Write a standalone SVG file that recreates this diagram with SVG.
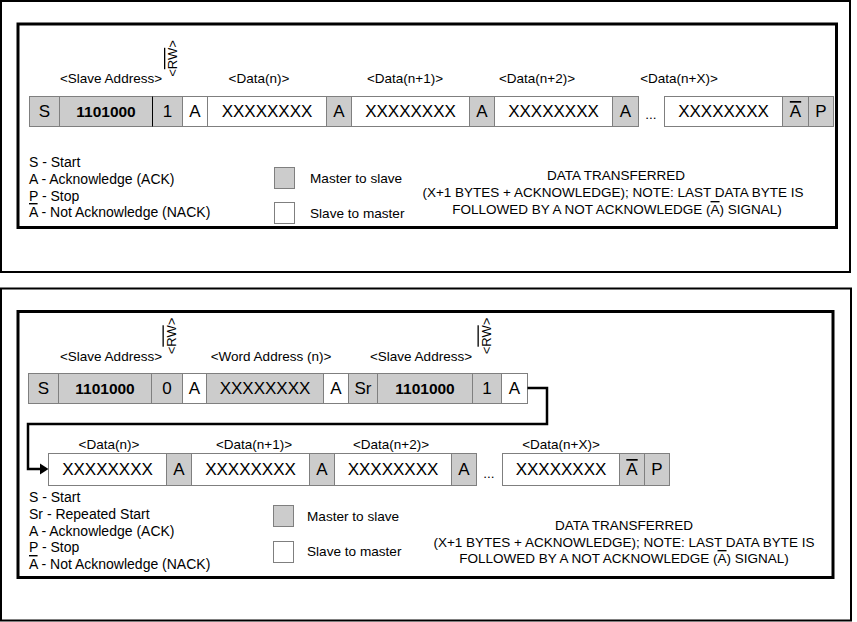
<svg xmlns="http://www.w3.org/2000/svg" width="857" height="622" viewBox="0 0 857 622">
<style>
text{font-family:"Liberation Sans",Arial,Helvetica,sans-serif;fill:#000}
.fo{fill:none;stroke:#000;stroke-width:2}
.fi{fill:none;stroke:#000;stroke-width:3}
.m{fill:#cccccc;stroke:#7f7f7f;stroke-width:1}
.s{fill:#ffffff;stroke:#7f7f7f;stroke-width:1}
.ct{font-size:17px;text-anchor:middle}
.cb{font-size:15.5px;font-weight:bold;text-anchor:middle}
.lbl{font-size:13.5px;text-anchor:middle}
.rw{font-size:13px;text-anchor:middle}
.leg{font-size:14px}
.ms{font-size:13.6px}
.note{font-size:13.5px;text-anchor:middle}
.dots{font-size:13.5px;text-anchor:middle}
.ov{text-decoration:overline}
.conn{fill:none;stroke:#000;stroke-width:2.5}
</style>
<rect width="857" height="622" fill="#fff"/>

<!-- ===== TOP PANEL ===== -->
<g id="top-panel">
<rect class="fo" x="1" y="1" width="849" height="271"/>
<rect class="fi" x="18" y="24" width="818.5" height="203.5"/>
</g>

<g id="top-labels">
<text class="lbl" x="111" y="83">&lt;Slave Address&gt;</text>
<text class="rw" transform="translate(177,58.5) rotate(-90)">&lt;<tspan class="ov">RW</tspan>&gt;</text>
<text class="lbl" x="259" y="83">&lt;Data(n)&gt;</text>
<text class="lbl" x="405" y="83">&lt;Data(n+1)&gt;</text>
<text class="lbl" x="537" y="83">&lt;Data(n+2)&gt;</text>
<text class="lbl" x="679" y="83">&lt;Data(n+X)&gt;</text>
</g>

<g id="t-S"><rect class="m" x="29.5" y="96.5" width="30" height="30"/><text class="ct" x="44.5" y="117">S</text></g>
<g id="t-addr"><rect class="m" x="59.5" y="96.5" width="93" height="30"/><text class="cb" x="106" y="116.5">1101000</text></g>
<g id="t-rw"><rect class="m" x="152.5" y="96.5" width="30" height="30"/><text class="ct" x="167.5" y="117">1</text></g>
<line x1="152.5" y1="96.5" x2="152.5" y2="126.5" stroke="#000" stroke-width="1"/>
<g id="t-ack0"><rect class="s" x="182.5" y="96.5" width="25" height="30"/><text class="ct" x="195" y="117">A</text></g>
<g id="t-d0"><rect class="s" x="207.5" y="96.5" width="119" height="30"/><text class="ct" x="267" y="117">XXXXXXXX</text></g>
<g id="t-ack1"><rect class="m" x="326.5" y="96.5" width="25" height="30"/><text class="ct" x="339" y="117">A</text></g>
<g id="t-d1"><rect class="s" x="351.5" y="96.5" width="118" height="30"/><text class="ct" x="410.5" y="117">XXXXXXXX</text></g>
<g id="t-ack2"><rect class="m" x="469.5" y="96.5" width="25" height="30"/><text class="ct" x="482" y="117">A</text></g>
<g id="t-d2"><rect class="s" x="494.5" y="96.5" width="118" height="30"/><text class="ct" x="553.5" y="117">XXXXXXXX</text></g>
<g id="t-ack3"><rect class="m" x="612.5" y="96.5" width="26" height="30"/><text class="ct" x="625.5" y="117">A</text></g>
<g id="t-dots"><text class="dots" x="651" y="119">...</text></g>
<g id="t-dx"><rect class="s" x="664.5" y="96.5" width="118" height="30"/><text class="ct" x="723.5" y="117">XXXXXXXX</text></g>
<g id="t-nack"><rect class="m" x="782.5" y="96.5" width="26" height="30"/><text class="ct" x="795.5" y="117"><tspan class="ov">A</tspan></text></g>
<g id="t-P"><rect class="m" x="808.5" y="96.5" width="25" height="30"/><text class="ct" x="821" y="117">P</text></g>

<g id="top-legend">
<text class="leg" x="29" y="167">S - Start</text>
<text class="leg" x="29" y="184">A - Acknowledge (ACK)</text>
<text class="leg" x="29" y="200.5">P - Stop</text>
<text class="leg" x="29" y="217"><tspan class="ov">A</tspan> - Not Acknowledge (NACK)</text>
</g>
<g id="top-key-master"><rect class="m" x="274.5" y="167.5" width="20" height="21"/><text class="ms" x="310" y="183">Master to slave</text></g>
<g id="top-key-slave"><rect class="s" x="274.5" y="202.5" width="20" height="21"/><text class="ms" x="310" y="218">Slave to master</text></g>
<g id="top-note">
<text class="note" x="616" y="180">DATA TRANSFERRED</text>
<text class="note" x="613" y="197">(X+1 BYTES + ACKNOWLEDGE); NOTE: LAST DATA BYTE IS</text>
<text class="note" x="617" y="214">FOLLOWED BY A NOT ACKNOWLEDGE (<tspan class="ov">A</tspan>) SIGNAL)</text>
</g>

<!-- ===== BOTTOM PANEL ===== -->
<g id="bottom-panel">
<rect class="fo" x="1" y="288.5" width="850" height="332"/>
<rect class="fi" x="18" y="311.5" width="815" height="266"/>
</g>

<g id="bottom-labels-1">
<text class="lbl" x="111" y="361">&lt;Slave Address&gt;</text>
<text class="rw" transform="translate(175.5,336) rotate(-90)">&lt;<tspan class="ov" style="text-decoration-color:#b5651d">RW</tspan>&gt;</text>
<text class="lbl" x="271" y="361">&lt;Word Address (n)&gt;</text>
<text class="lbl" x="421" y="361">&lt;Slave Address&gt;</text>
<text class="rw" transform="translate(490.5,336) rotate(-90)">&lt;<tspan class="ov" style="text-decoration-color:#b5651d">RW</tspan>&gt;</text>
</g>

<g id="b-S"><rect class="m" x="28.5" y="373.5" width="30" height="30"/><text class="ct" x="43.5" y="394">S</text></g>
<g id="b-addr1"><rect class="m" x="58.5" y="373.5" width="93" height="30"/><text class="cb" x="105" y="393.5">1101000</text></g>
<g id="b-w"><rect class="m" x="151.5" y="373.5" width="31" height="30"/><text class="ct" x="167" y="394">0</text></g>
<g id="b-ack0"><rect class="s" x="182.5" y="373.5" width="24" height="30"/><text class="ct" x="194.5" y="394">A</text></g>
<g id="b-word"><rect class="m" x="206.5" y="373.5" width="117" height="30"/><text class="ct" x="265" y="394">XXXXXXXX</text></g>
<g id="b-ack1"><rect class="s" x="323.5" y="373.5" width="25" height="30"/><text class="ct" x="336" y="394">A</text></g>
<g id="b-Sr"><rect class="m" x="348.5" y="373.5" width="29" height="30"/><text class="ct" x="363" y="394">Sr</text></g>
<g id="b-addr2"><rect class="m" x="377.5" y="373.5" width="95" height="30"/><text class="cb" x="425" y="393.5">1101000</text></g>
<g id="b-r"><rect class="m" x="472.5" y="373.5" width="29" height="30"/><text class="ct" x="487" y="394">1</text></g>
<g id="b-ack2"><rect class="s" x="501.5" y="373.5" width="26" height="30"/><text class="ct" x="514.5" y="394">A</text></g>

<g id="connectors">
<path class="conn" d="M527.5,388 H547 V424 H28 V469 H41"/>
<polygon points="40,463.5 48.5,469 40,474.5" fill="#000"/>
</g>

<g id="bottom-labels-2">
<text class="lbl" x="109" y="449">&lt;Data(n)&gt;</text>
<text class="lbl" x="254" y="449">&lt;Data(n+1)&gt;</text>
<text class="lbl" x="391" y="449">&lt;Data(n+2)&gt;</text>
<text class="lbl" x="561" y="449">&lt;Data(n+X)&gt;</text>
</g>

<g id="b2-d0"><rect class="s" x="48.5" y="453.5" width="118" height="32"/><text class="ct" x="107.5" y="475">XXXXXXXX</text></g>
<g id="b2-ack0"><rect class="m" x="166.5" y="453.5" width="25" height="32"/><text class="ct" x="179" y="475">A</text></g>
<g id="b2-d1"><rect class="s" x="191.5" y="453.5" width="118" height="32"/><text class="ct" x="250.5" y="475">XXXXXXXX</text></g>
<g id="b2-ack1"><rect class="m" x="309.5" y="453.5" width="25" height="32"/><text class="ct" x="322" y="475">A</text></g>
<g id="b2-d2"><rect class="s" x="334.5" y="453.5" width="117" height="32"/><text class="ct" x="393" y="475">XXXXXXXX</text></g>
<g id="b2-ack2"><rect class="m" x="451.5" y="453.5" width="25" height="32"/><text class="ct" x="464" y="475">A</text></g>
<g id="b2-dots"><text class="dots" x="489" y="478">...</text></g>
<g id="b2-dx"><rect class="s" x="502.5" y="453.5" width="117" height="32"/><text class="ct" x="561" y="475">XXXXXXXX</text></g>
<g id="b2-nack"><rect class="m" x="619.5" y="453.5" width="25" height="32"/><text class="ct" x="632" y="475"><tspan class="ov">A</tspan></text></g>
<g id="b2-P"><rect class="m" x="644.5" y="453.5" width="25" height="32"/><text class="ct" x="657" y="475">P</text></g>

<g id="bottom-legend">
<text class="leg" x="29" y="502">S - Start</text>
<text class="leg" x="29" y="519">Sr - Repeated Start</text>
<text class="leg" x="29" y="536">A - Acknowledge (ACK)</text>
<text class="leg" x="29" y="552">P - Stop</text>
<text class="leg" x="29" y="569"><tspan class="ov">A</tspan> - Not Acknowledge (NACK)</text>
</g>
<g id="bottom-key-master"><rect class="m" x="273.5" y="505.5" width="20" height="21"/><text class="ms" x="307" y="521">Master to slave</text></g>
<g id="bottom-key-slave"><rect class="s" x="273.5" y="541.5" width="20" height="21"/><text class="ms" x="307" y="556">Slave to master</text></g>
<g id="bottom-note">
<text class="note" x="624" y="530">DATA TRANSFERRED</text>
<text class="note" x="624" y="547">(X+1 BYTES + ACKNOWLEDGE); NOTE: LAST DATA BYTE IS</text>
<text class="note" x="624" y="563">FOLLOWED BY A NOT ACKNOWLEDGE (<tspan class="ov">A</tspan>) SIGNAL)</text>
</g>
</svg>
